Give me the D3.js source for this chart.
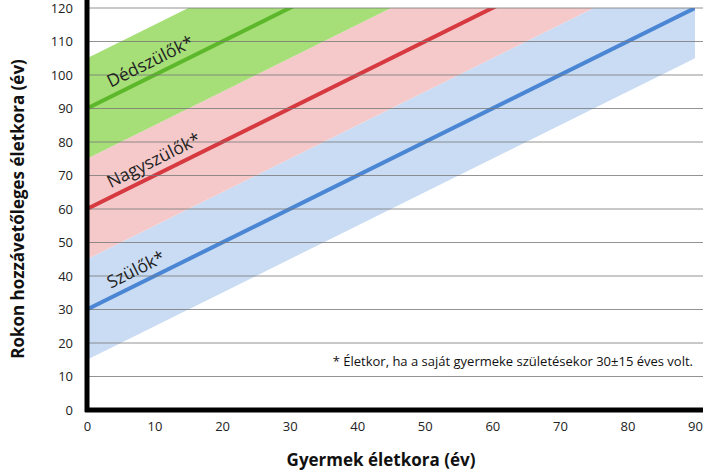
<!DOCTYPE html>
<html><head><meta charset="utf-8">
<script src="https://cdn.jsdelivr.net/npm/d3@7"></script>
<style>body{margin:0;background:#fff;font-family:"Open Sans","Liberation Sans",sans-serif}</style>
</head><body><svg id="c" width="706" height="476"></svg>
<script>
const xTicks=[0,10,20,30,40,50,60,70,80,90];
const yTicks=[0,10,20,30,40,50,60,70,80,90,100,110,120];
const series=["Szülők*","Nagyszülők*","Dédszülők*"];
const offsets=[30,60,90];
const spread=[15,15,15];
const lineColors=["#4a86d4","#d63a40","#5cb82a"];
const bandColors=["#c9dcf3","#f5c9ca","#a6de77"];
const note="* Életkor, ha a saját gyermeke születésekor 30±15 éves volt.";

const svg=d3.select("#c");
const L=87,R=695,T=8,B=410;
const x=d3.scaleLinear().domain([0,90]).range([L,R]);
const y=d3.scaleLinear().domain([0,120]).range([B,T]);
const defs=svg.append("defs");
defs.append("clipPath").attr("id","cp").append("rect").attr("x",L).attr("y",T).attr("width",R-L).attr("height",B-T);
const g=svg.append("g").attr("clip-path","url(#cp)");
series.forEach((s,i)=>{
  const a=d3.area().x(d=>x(d)).y0(d=>y(d+offsets[i]-spread[i])).y1(d=>y(d+offsets[i]+spread[i]));
  g.append("path").datum([0,90]).attr("d",a).attr("fill",bandColors[i]);
});
svg.append("g").selectAll("line").data(yTicks.slice(1)).join("line")
 .attr("x1",L).attr("x2",R+8).attr("y1",d=>y(d)).attr("y2",d=>y(d)).attr("stroke","#777").attr("stroke-width",0.8);
series.forEach((s,i)=>{
  const l=d3.line().x(d=>x(d)).y(d=>y(d+offsets[i]));
  g.append("path").datum([0,90]).attr("d",l).attr("stroke",lineColors[i]).attr("stroke-width",4).attr("fill","none");
});
const ang=Math.atan2(y(10)-y(0),x(10)-x(0))*180/Math.PI;
const lblX=[3.5,3.5,3.5];
series.forEach((s,i)=>{
  const px=x(lblX[i]),py=y(lblX[i]+offsets[i])-9;
  svg.append("text").attr("transform",`translate(${px},${py}) rotate(${ang})`).attr("font-size",17.5).attr("fill","#222").text(s);
});
svg.append("g").attr("transform",`translate(0,${B})`).call(d3.axisBottom(x).tickValues(xTicks).tickSize(0).tickPadding(12))
 .call(g=>g.select(".domain").remove()).selectAll("text").attr("font-size",13).attr("fill","#222").attr("font-family","Open Sans, sans-serif");
svg.append("g").attr("transform",`translate(${L},0)`).call(d3.axisLeft(y).tickValues(yTicks).tickSize(0).tickPadding(14))
 .call(g=>g.select(".domain").remove()).selectAll("text").attr("font-size",13).attr("fill","#222").attr("font-family","Open Sans, sans-serif");
svg.append("line").attr("x1",L).attr("x2",L).attr("y1",T-8).attr("y2",B+2).attr("stroke","#000").attr("stroke-width",5);
svg.append("line").attr("x1",L-2).attr("x2",R+8).attr("y1",B).attr("y2",B).attr("stroke","#000").attr("stroke-width",5);
svg.append("text").attr("x",(L+R)/2-10).attr("y",466).attr("text-anchor","middle").attr("font-size",17).attr("font-weight","bold").attr("fill","#111").text("Gyermek életkora (év)");
svg.append("text").attr("transform",`translate(24,${(T+B)/2}) rotate(-90)`).attr("text-anchor","middle").attr("font-size",17).attr("font-weight","bold").attr("fill","#111").text("Rokon hozzávetőleges életkora (év)");
svg.append("text").attr("x",693).attr("y",366).attr("text-anchor","end").attr("font-size",13).attr("fill","#111").text(note);
</script></body></html>
